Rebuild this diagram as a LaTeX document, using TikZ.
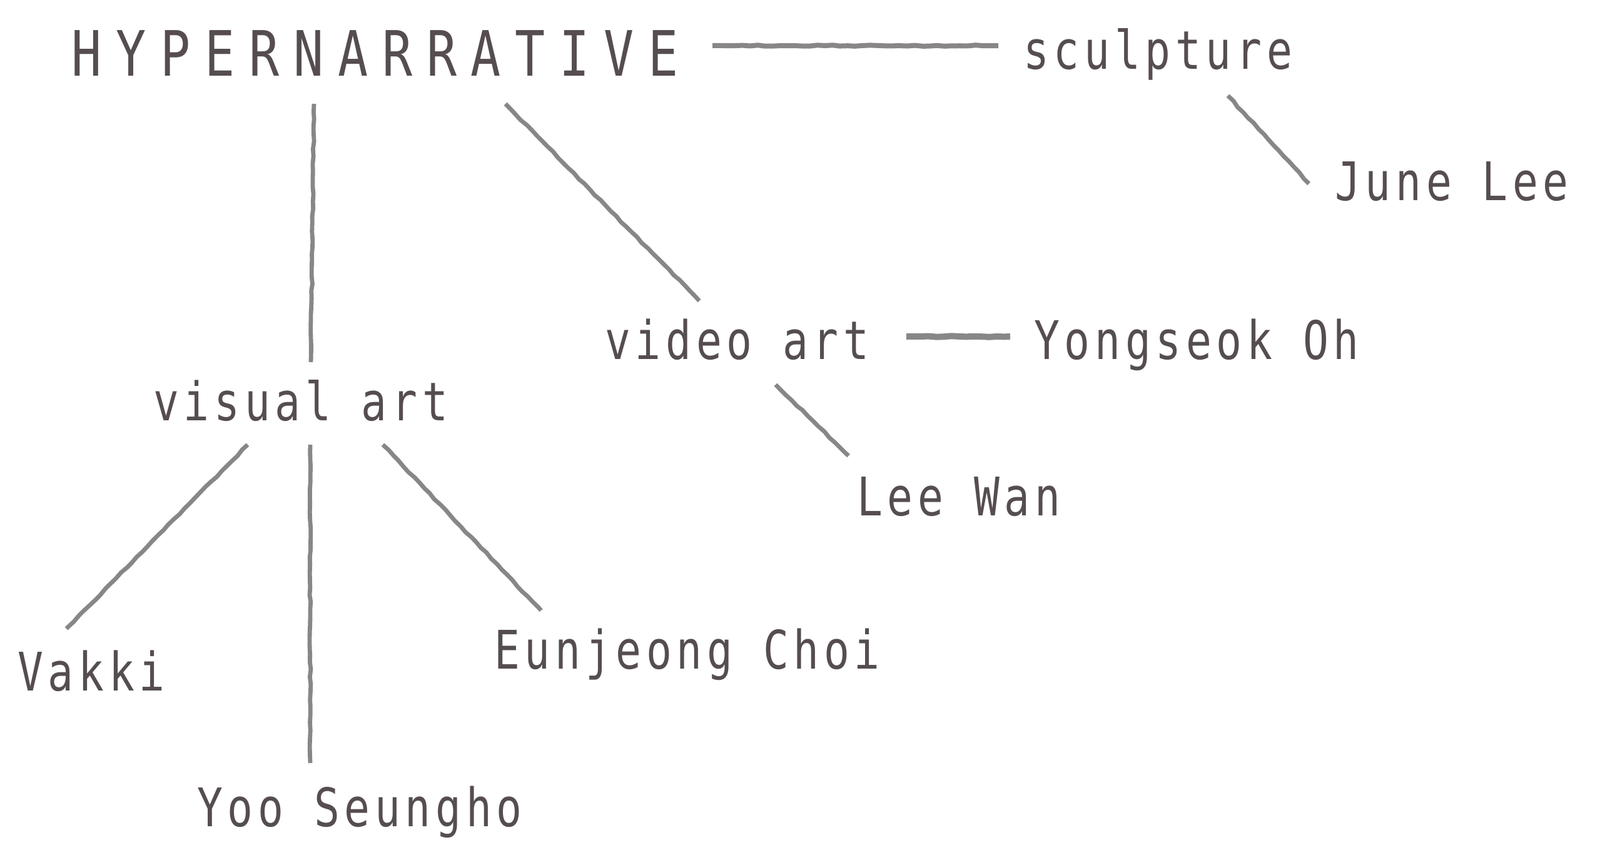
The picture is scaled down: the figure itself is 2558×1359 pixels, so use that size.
\documentclass[tikz,border=0pt]{standalone}
\usepackage{fontspec}
\usetikzlibrary{decorations.pathmorphing}
\newfontfamily\lblfont[FakeStretch=0.8,LetterSpace=9]{DejaVu Sans Mono}
\newfontfamily\ttlfont[FakeStretch=0.8,LetterSpace=22.8]{DejaVu Sans Mono}
\definecolor{txt}{RGB}{85,77,80}
\definecolor{ln}{RGB}{137,134,135}
\tikzset{
  lbl/.style={anchor=base west, inner sep=0pt, text=txt, font=\lblfont\fontsize{42.5}{50}\selectfont},
  ttl/.style={anchor=base west, inner sep=0pt, text=txt, font=\ttlfont\fontsize{50}{60}\selectfont},
  link/.style={draw=ln, line width=3.4pt, line cap=butt,
    decorate, decoration={random steps, segment length=6pt, amplitude=0.5pt}},
  thick link/.style={link, line width=4pt}
}
\begin{document}
\begin{tikzpicture}[x=0.5pt, y=-0.5pt]
\useasboundingbox (0,0) rectangle (2558,1359);
\fill[white] (0,0) rectangle (2558,1359);
% nodes
\node[ttl] (hyper) at (114,122) {HYPERNARRATIVE};
\node[lbl] (sculpture) at (1636,111) {sculpture};
\node[lbl] (junelee) at (2134,320) {June Lee};
\node[lbl] (video) at (967,574) {video art};
\node[lbl] (yongseok) at (1653,574) {Yongseok Oh};
\node[lbl] (visual) at (245,672) {visual art};
\node[lbl] (leewan) at (1370,824) {Lee Wan};
\node[lbl] (vakki) at (28,1104) {Vakki};
\node[lbl] (eunjeong) at (790,1069) {Eunjeong Choi};
\node[lbl] (yoo) at (315,1321) {Yoo Seungho};
% connector ends
\coordinate (hs1) at (1139,73);  \coordinate (hs2) at (1596,73);
\coordinate (hv1) at (502,166);  \coordinate (hv2) at (497,579);
\coordinate (hd1) at (808,166);  \coordinate (hd2) at (1118,481);
\coordinate (sj1) at (1963,153); \coordinate (sj2) at (2093,294);
\coordinate (vy1) at (1449,538); \coordinate (vy2) at (1615,538);
\coordinate (vl1) at (1240,615); \coordinate (vl2) at (1357,729);
\coordinate (ak1) at (396,711);  \coordinate (ak2) at (106,1005);
\coordinate (ay1) at (496,711);  \coordinate (ay2) at (496,1220);
\coordinate (ae1) at (612,711);  \coordinate (ae2) at (865,976);
% connectors
\draw[thick link] (hs1) -- (hs2);
\draw[link] (hv1) -- (hv2);
\draw[link] (hd1) -- (hd2);
\draw[link] (sj1) -- (sj2);
\draw[thick link, line width=5pt] (vy1) -- (vy2);
\draw[link] (vl1) -- (vl2);
\draw[link] (ak1) -- (ak2);
\draw[link] (ay1) -- (ay2);
\draw[link] (ae1) -- (ae2);
\end{tikzpicture}
\end{document}
